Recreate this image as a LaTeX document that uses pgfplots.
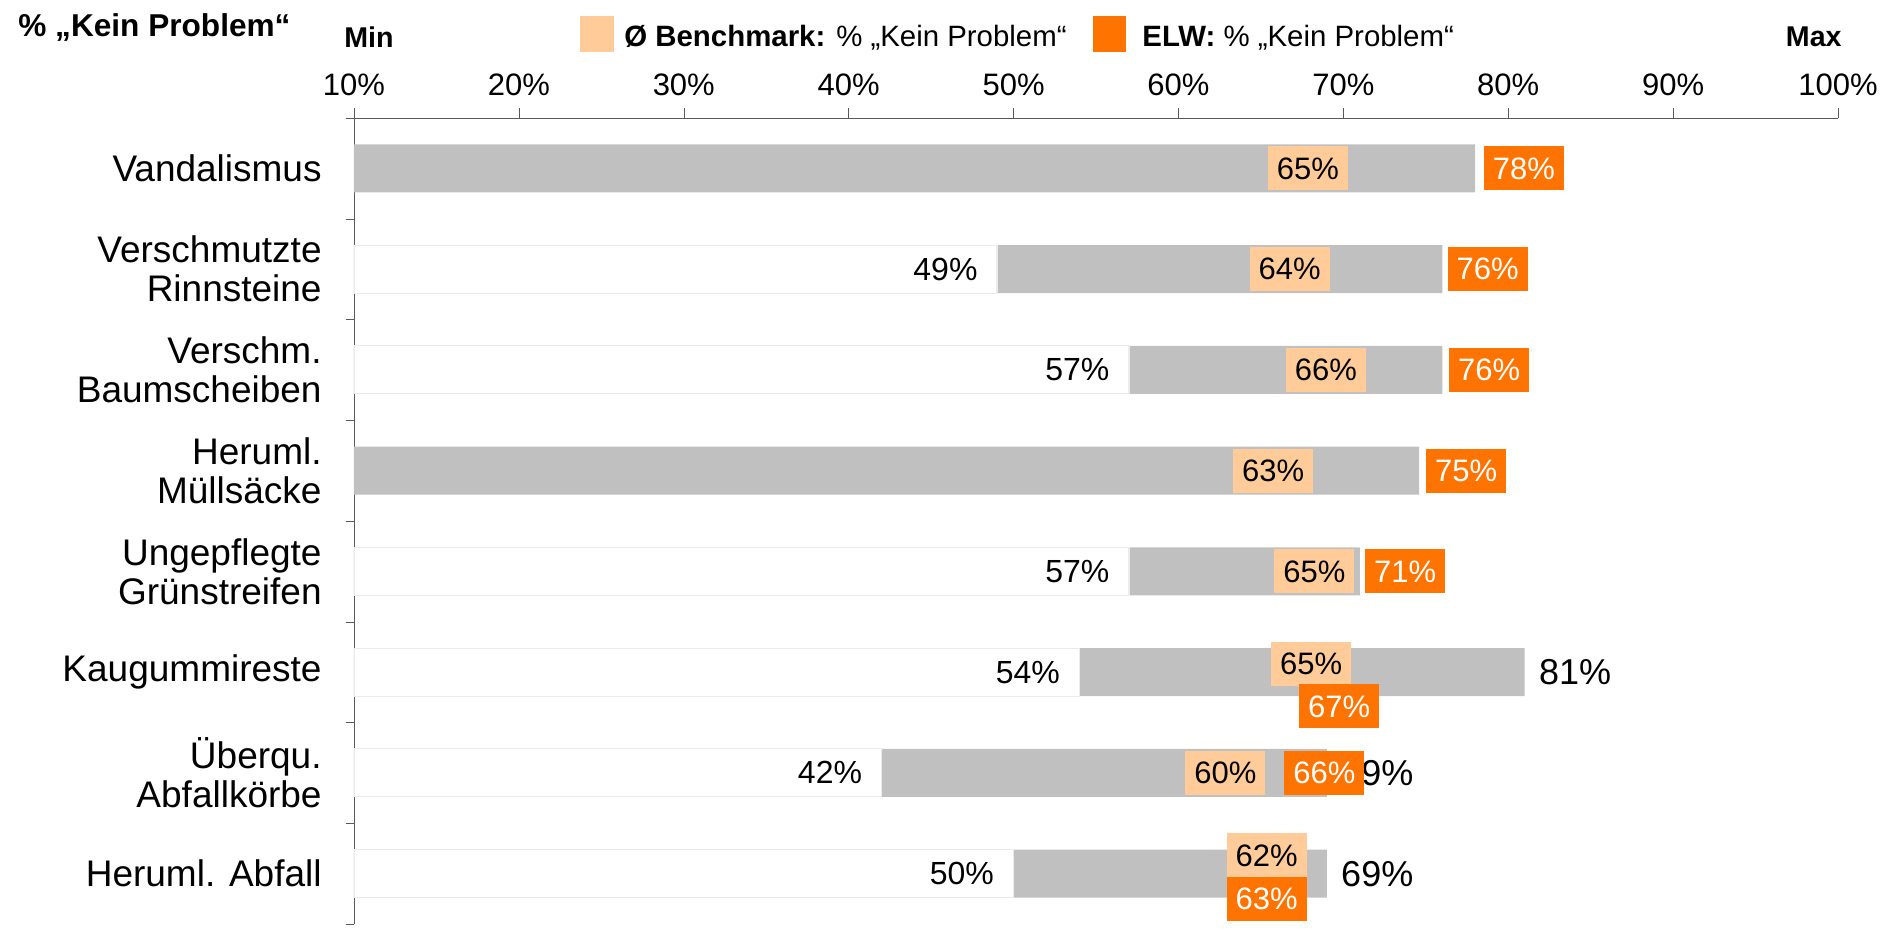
\documentclass[border=0pt]{standalone}
\usepackage{pgfplots}
\pgfplotsset{compat=1.18}
\usepackage{fontspec}
\setmainfont{Liberation Sans}
\definecolor{barg}{HTML}{C0C0C0}
\definecolor{benchc}{HTML}{FFCC99}
\definecolor{elwc}{HTML}{FF7300}
\begin{document}
\begin{tikzpicture}
\path[use as bounding box] (-177pt,-2.5pt) rectangle (770pt,462pt);
\begin{axis}[
  at={(0,0)}, anchor=south west,
  scale only axis, width=742pt, height=403pt,
  xmin=10, xmax=100, ymin=0.5, ymax=8.5,
  axis x line*=top, axis y line*=left,
  axis line style={-, black!65},
  xtick={10,20,...,100},
  xticklabels={10\%,20\%,30\%,40\%,50\%,60\%,70\%,80\%,90\%,100\%},
  xticklabel style={font=\fontsize{15.5}{16}\selectfont, inner sep=0pt, yshift=6pt},
  ytick={1,...,8},
  yticklabels={Heruml. Abfall, {Überqu.\\Abfallkörbe}, Kaugummireste, {Ungepflegte\\Grünstreifen}, {Heruml.\\Müllsäcke}, {Verschm.\\Baumscheiben}, {Verschmutzte\\Rinnsteine}, Vandalismus},
  yticklabel style={align=right, font=\fontsize{18.5}{19.5}\selectfont, inner sep=0pt, xshift=-11pt},
  minor ytick={0.5,1.5,...,8.5},
  tick align=outside,
  major tick length=5pt, minor tick length=4pt,
  every major y tick/.append style={draw=none},
  tick style={black!65},
]
% grey range bars (0 .. max), max label at right
\addplot[xbar, bar shift=0pt, bar width=24pt, fill=barg, draw=none,
  nodes near coords={\pgfplotspointmeta\%}, point meta=explicit symbolic,
  every node near coord/.append style={anchor=west, inner sep=0pt, xshift=7pt,
    font=\fontsize{18}{18}\selectfont, text=black}]
  table[x=max, y=y, meta=lab] {
  y max lab
  8 78 78
  7 76 76
  6 76 76
  5 74.6 75
  4 71 71
  3 81 81
  2 69 69
  1 69 69
};
% white part (0 .. min), min label at left of range
\addplot[xbar, bar shift=0pt, bar width=24pt, fill=white, draw=black!8, line width=0.6pt,
  nodes near coords={\pgfplotspointmeta\%}, point meta=explicit symbolic,
  every node near coord/.append style={anchor=east, inner sep=0pt, xshift=-9.5pt,
    font=\fontsize{16}{16}\selectfont, text=black}]
  table[x=min, y=y, meta=lab] {
  y min lab
  7 49 49
  6 57 57
  4 57 57
  3 54 54
  2 42 42
  1 50 50
};
% benchmark boxes
\addplot[draw=none, mark=none,
  nodes near coords={\pgfplotspointmeta\%}, point meta=explicit symbolic,
  every node near coord/.append style={anchor=west, fill=benchc, inner sep=0pt,
    minimum width=40pt, minimum height=22pt, font=\fontsize{15.5}{15.5}\selectfont, text=black}]
  table[x=x, y=y, meta=lab] {
  x y lab
  65.4 8 65
  64.3 7 64
  66.5 6 66
  63.3 5 63
  65.8 4 65
  65.6 3.08 65
  60.4 2 60
  62.9 1.18 62
};
% ELW boxes
\addplot[draw=none, mark=none,
  nodes near coords={\pgfplotspointmeta\%}, point meta=explicit symbolic,
  every node near coord/.append style={anchor=west, fill=elwc, inner sep=0pt,
    minimum width=40pt, minimum height=22pt, font=\fontsize{15.5}{15.5}\selectfont, text=white}]
  table[x=x, y=y, meta=lab] {
  x y lab
  78.5 8 78
  76.3 7 76
  76.4 6 76
  75.0 5 75
  71.3 4 71
  67.3 2.66 67
  66.4 2 66
  62.9 0.75 63
};
\end{axis}
% header
\node[anchor=west, inner sep=0pt, font=\bfseries\fontsize{15.8}{16}\selectfont] at (-168pt,448pt) {\% „Kein Problem“};
\node[anchor=west, inner sep=0pt, font=\bfseries\fontsize{14.3}{15}\selectfont] at (-5pt,443.5pt) {Min};
\node[anchor=east, inner sep=0pt, font=\bfseries\fontsize{14.3}{15}\selectfont] at (744pt,443.5pt) {Max};
\fill[benchc] (113pt,436pt) rectangle (130pt,454pt);
\node[anchor=west, inner sep=0pt, font=\fontsize{14.7}{15}\selectfont] at (135pt,443pt) {\textbf{Ø Benchmark:} \% „Kein Problem“};
\fill[elwc] (369.5pt,436pt) rectangle (386pt,454pt);
\node[anchor=west, inner sep=0pt, font=\fontsize{14.7}{15}\selectfont] at (394pt,443pt) {\textbf{ELW:} \% „Kein Problem“};
\end{tikzpicture}
\end{document}
